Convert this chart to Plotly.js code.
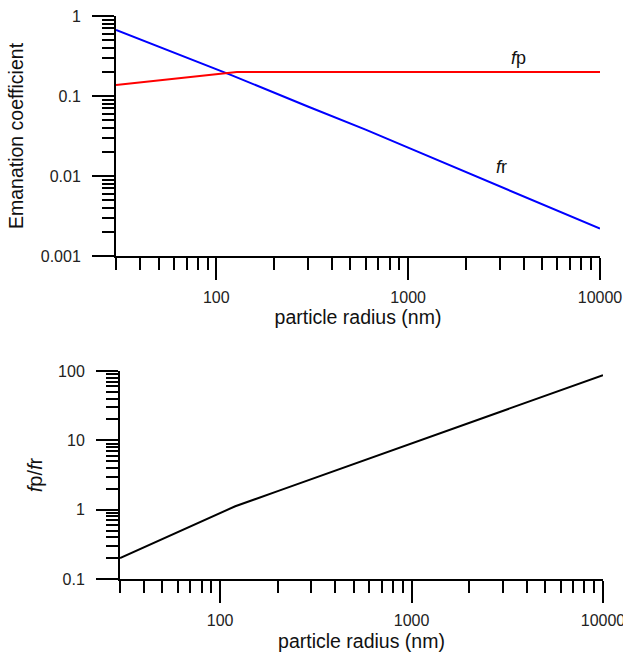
<!DOCTYPE html>
<html>
<head>
<meta charset="utf-8">
<script src="https://cdn.plot.ly/plotly-3.0.1.min.js"></script>
<style>html,body{margin:0;padding:0;background:#fff;}#chart{width:623px;height:655px;}</style>
</head>
<body>
<div id="chart"></div>
<script>
// Top panel: emanation coefficients vs particle radius (nm)
const radiusFr = [30, 60, 118, 300, 600, 1000, 1700, 3000, 5600, 10000];
const frValues = [0.67, 0.35, 0.185, 0.074, 0.038, 0.0226, 0.0132, 0.0075, 0.0040, 0.0022];
const radiusFp = [30, 60, 128, 1000, 10000];
const fpValues = [0.137, 0.164, 0.2, 0.2, 0.2];
// Bottom panel: ratio fp/fr
const radiusRatio = [30, 50, 70, 100, 120, 200, 300, 500, 1000, 2000, 3000, 5000, 10000];
const ratioValues = [0.2, 0.377, 0.573, 0.89, 1.12, 1.85, 2.76, 4.56, 9.02, 17.9, 26.7, 44.2, 87];
const xTickVals = [100, 1000, 10000];
const xTickText = ['100', '1000', '10000'];
const yTopTickVals = [0.001, 0.01, 0.1, 1];
const yTopTickText = ['0.001', '0.01', '0.1', '1'];
const yBotTickVals = [0.1, 1, 10, 100];
const yBotTickText = ['0.1', '1', '10', '100'];

const FONT = 'Liberation Sans, Arial, sans-serif';
const tickFont = {family: FONT, size: 16, color: '#222'};
const titleFont = {family: FONT, size: 19.5, color: '#111'};

function logAxis(extra) {
  return Object.assign({
    type: 'log',
    showline: true, linewidth: 2, linecolor: '#000',
    showgrid: false, zeroline: false,
    ticks: 'outside', ticklen: 22, tickwidth: 2, tickcolor: '#000',
    tickmode: 'array',
    tickfont: tickFont,
    ticklabeloverflow: 'allow',
    minor: {ticks: 'outside', ticklen: 12, tickwidth: 2, tickcolor: '#000', dtick: 'D1', showgrid: false},
    fixedrange: true
  }, extra);
}

const traces = [
  {x: radiusFr, y: frValues, type: 'scatter', mode: 'lines', line: {color: '#0000ff', width: 2}, xaxis: 'x', yaxis: 'y', showlegend: false},
  {x: radiusFp, y: fpValues, type: 'scatter', mode: 'lines', line: {color: '#ff0000', width: 2}, xaxis: 'x', yaxis: 'y', showlegend: false},
  {x: radiusRatio, y: ratioValues, type: 'scatter', mode: 'lines', line: {color: '#000000', width: 2}, xaxis: 'x2', yaxis: 'y2', showlegend: false}
];

const layout = {
  width: 623, height: 655,
  margin: {l: 0, r: 0, t: 0, b: 0},
  paper_bgcolor: '#fff', plot_bgcolor: '#fff',
  showlegend: false,
  xaxis: logAxis({domain: [0.18620, 0.96308], anchor: 'y', range: [Math.log10(30), 4],
    tickvals: xTickVals, ticktext: xTickText, ticklabelstandoff: 4,
    title: {text: 'particle radius (nm)', font: titleFont, standoff: 4}}),
  yaxis: logAxis({domain: [0.60916, 0.97557], anchor: 'x', range: [-3, 0],
    tickvals: yTopTickVals, ticktext: yTopTickText, ticklabelstandoff: 8,
    title: {text: 'Emanation coefficient', font: titleFont, standoff: 12}}),
  xaxis2: logAxis({domain: [0.19262, 0.96790], anchor: 'y2', range: [Math.log10(30), 4],
    tickvals: xTickVals, ticktext: xTickText, ticklabelstandoff: 4,
    title: {text: 'particle radius (nm)', font: titleFont, standoff: 6}}),
  yaxis2: logAxis({domain: [0.11603, 0.43359], anchor: 'x2', range: [-1, 2],
    tickvals: yBotTickVals, ticktext: yBotTickText, ticklabelstandoff: 8,
    title: {text: '<i>f</i>p/<i>f</i>r', font: {family: FONT, size: 20, color: '#111'}, standoff: 10}}),
  annotations: [
    {text: '<i>f</i>p', x: Math.log10(3770), y: -0.525, xref: 'x', yref: 'y', showarrow: false, font: {family: FONT, size: 18, color: '#111'}},
    {text: '<i>f</i>r', x: Math.log10(3070), y: -1.89, xref: 'x', yref: 'y', showarrow: false, font: {family: FONT, size: 18, color: '#111'}}
  ]
};

Plotly.newPlot('chart', traces, layout, {staticPlot: true, displayModeBar: false});
</script>
</body>
</html>
